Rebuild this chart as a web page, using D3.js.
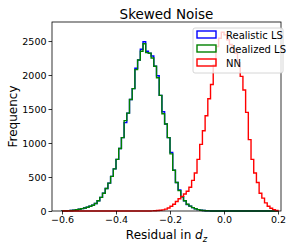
<!DOCTYPE html>
<html>
<head>
<meta charset="utf-8">
<script src="https://cdn.jsdelivr.net/npm/d3@7"></script>
<style>
  body { margin: 0; background: #fff; }
  text { font-family: "DejaVu Sans", sans-serif; }
</style>
</head>
<body>
<div id="chart"></div>
<script>
// histogram bins: left edges from -0.60, width 0.01 (80 bins)
const binStart = -0.60;
const binWidth = 0.01;

const realisticLS = [
  2, 3, 5, 8, 12, 18, 25, 35, 45, 55,
  70, 85, 110, 150, 200, 260, 330, 410, 510, 620,
  760, 920, 1080, 1300, 1440, 1640, 1800, 2100, 2220, 2380,
  2490, 2350, 2320, 2280, 2130, 1990, 1700, 1460, 1280, 1080,
  860, 600, 420, 310, 210, 150, 95, 72, 50, 32,
  20, 12, 7, 4, 2, 1, 1, 0, 0, 0,
  0, 0, 0, 0, 0, 0, 0, 0, 0, 0,
  0, 0, 0, 0, 0, 0, 0, 0, 0, 0
];
const idealizedLS = [
  2, 3, 5, 8, 12, 18, 25, 35, 45, 55,
  70, 85, 110, 150, 200, 260, 330, 410, 510, 620,
  760, 920, 1080, 1330, 1440, 1640, 1800, 2080, 2220, 2350,
  2460, 2330, 2320, 2250, 2130, 1960, 1700, 1430, 1280, 1080,
  840, 600, 420, 300, 210, 150, 100, 72, 50, 32,
  20, 12, 7, 4, 2, 1, 1, 0, 0, 0,
  0, 0, 0, 0, 0, 0, 0, 0, 0, 0,
  0, 0, 0, 0, 0, 0, 0, 0, 0, 0
];
const nn = [
  0, 0, 0, 0, 0, 0, 0, 0, 0, 0,
  0, 0, 0, 0, 0, 0, 0, 0, 0, 0,
  0, 0, 0, 0, 0, 0, 0, 0, 0, 0,
  0, 0, 1, 2, 4, 7, 11, 17, 28, 45,
  70, 100, 140, 180, 215, 250, 290, 350, 450, 560,
  760, 980, 1180, 1400, 1650, 1860, 2150, 2420, 2540, 2630,
  2590, 2520, 2450, 2390, 2320, 2180, 1980, 1780, 1450, 1050,
  760, 560, 420, 260, 190, 120, 70, 40, 20, 8
];

const seriesNames = ["Realistic LS", "Idealized LS", "NN"];
const seriesColors = ["#0000ff", "#008000", "#ff0000"];
const xTicks = [-0.6, -0.4, -0.2, 0.0, 0.2];
const yTicks = [0, 500, 1000, 1500, 2000, 2500];

const width = 299;
const height = 249;
const margin = { top: 22, right: 18, bottom: 38, left: 52 };
const innerW = width - margin.left - margin.right;
const innerH = height - margin.top - margin.bottom;

const svg = d3.select("#chart")
  .append("svg")
  .attr("width", width)
  .attr("height", height);

const g = svg.append("g")
  .attr("transform", `translate(${margin.left},${margin.top})`);

const x = d3.scaleLinear().domain([-0.637, 0.211]).range([0, innerW]);
const y = d3.scaleLinear().domain([0, 2780]).range([innerH, 0]);

// step outline like matplotlib histtype='step'
const stepPoints = (vals) => {
  const pts = [[binStart, 0]];
  vals.forEach((v, i) => {
    const e0 = binStart + i * binWidth;
    pts.push([e0, v], [e0 + binWidth, v]);
  });
  pts.push([binStart + vals.length * binWidth, 0]);
  return pts;
};

const line = d3.line().x((d) => x(d[0])).y((d) => y(d[1]));

[realisticLS, idealizedLS, nn].forEach((vals, i) => {
  g.append("path")
    .attr("d", line(stepPoints(vals)))
    .attr("fill", "none")
    .attr("stroke", seriesColors[i])
    .attr("stroke-width", 1.4)
    .attr("stroke-linejoin", "miter");
});

// axes
const xAxis = g.append("g")
  .attr("transform", `translate(0,${innerH})`)
  .call(d3.axisBottom(x).tickValues(xTicks).tickSize(3.5).tickPadding(2)
    .tickFormat((d) => d3.format(".1f")(d).replace("-", "\u2212")));
const yAxis = g.append("g")
  .call(d3.axisLeft(y).tickValues(yTicks).tickSize(3.5).tickPadding(2)
    .tickFormat(d3.format("d")));

[xAxis, yAxis].forEach((a) => {
  a.select(".domain").remove();
  a.selectAll("line").attr("stroke", "#000").attr("stroke-width", 0.8);
  a.selectAll("text").attr("fill", "#000").style("font-size", "9.5px");
});

g.append("rect")
  .attr("width", innerW)
  .attr("height", innerH)
  .attr("fill", "none")
  .attr("stroke", "#000")
  .attr("stroke-width", 0.8);

// title and labels
svg.append("text")
  .attr("x", margin.left + innerW / 2)
  .attr("y", 19)
  .attr("text-anchor", "middle")
  .style("font-size", "13.5px")
  .text("Skewed Noise");

svg.append("text")
  .attr("transform", `translate(17,${margin.top + innerH / 2}) rotate(-90)`)
  .attr("text-anchor", "middle")
  .style("font-size", "12px")
  .text("Frequency");

const xl = svg.append("text")
  .attr("x", margin.left + innerW / 2)
  .attr("y", 239)
  .attr("text-anchor", "middle")
  .style("font-size", "12px");
xl.append("tspan").text("Residual in ");
xl.append("tspan").style("font-style", "italic").text("d");
xl.append("tspan").attr("dy", 2.5).style("font-size", "8.5px").style("font-style", "italic").text("z");

// legend
const lg = svg.append("g").attr("transform", "translate(193,28)");
lg.append("rect")
  .attr("width", 90)
  .attr("height", 45)
  .attr("rx", 2)
  .attr("fill", "#fff")
  .attr("fill-opacity", 0.8)
  .attr("stroke", "#cccccc")
  .attr("stroke-width", 0.8);

seriesNames.forEach((name, i) => {
  const row = lg.append("g").attr("transform", `translate(4,${3 + i * 14})`);
  row.append("rect")
    .attr("width", 19)
    .attr("height", 7)
    .attr("fill", "none")
    .attr("stroke", seriesColors[i])
    .attr("stroke-width", 1.4);
  row.append("text")
    .attr("x", 29)
    .attr("y", 7.5)
    .style("font-size", "10px")
    .text(name);
});
</script>
</body>
</html>
